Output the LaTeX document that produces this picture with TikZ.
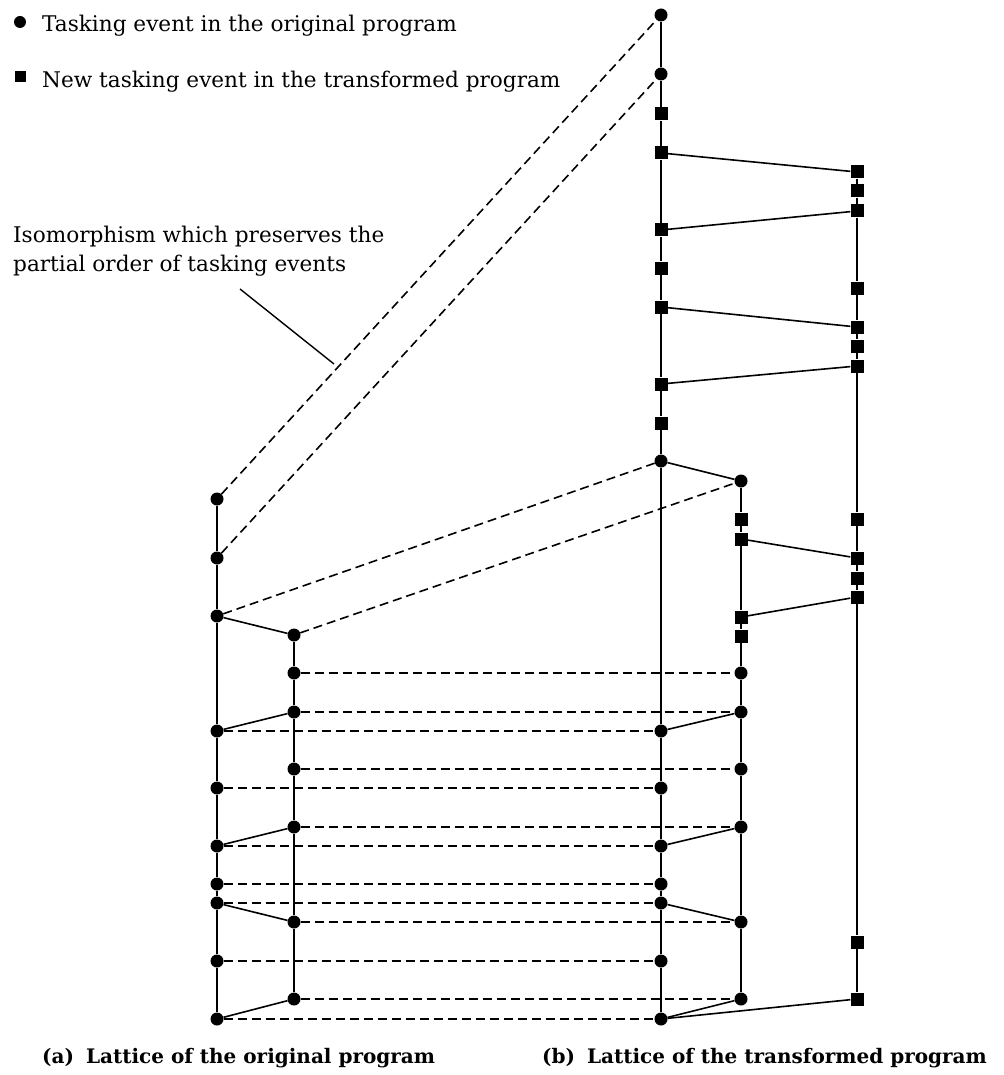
\documentclass[tikz,border=0pt]{standalone}
\usepackage{fontspec}
\setmainfont{DejaVu Serif}
\begin{document}
\begin{tikzpicture}[x=1pt,y=-1pt,
  circ/.style={circle,fill=black,inner sep=0pt,minimum size=13pt},
  sqr/.style={rectangle,fill=black,inner sep=0pt,minimum size=13pt},
  solidln/.style={line width=1.6pt,black},
  isoln/.style={line width=1.6pt,black,dash pattern=on 9pt off 5pt},
  txt/.style={anchor=base west,inner sep=0pt,font=\fontsize{21.6}{26}\selectfont},
  captxt/.style={anchor=base west,inner sep=0pt,font=\fontsize{20}{24}\selectfont\bfseries}]
\useasboundingbox (0,0) rectangle (1003,1075);
% legend
\node[circ,minimum size=12pt] (lc) at (20,22) {};
\node[sqr,minimum size=11pt] (ls) at (20,77) {};
\node[txt] (lt1) at (42,32) {Tasking event in the original program};
\node[txt] (lt2) at (42,88) {New tasking event in the transformed program};
% annotation
\node[txt] (an1) at (13,243) {Isomorphism which preserves the};
\node[txt] (an2) at (13,271) {partial order of tasking events};
\coordinate (ap1) at (240,289);
\coordinate (ap2) at (334,364);
\draw[line width=1.4pt] (ap1) -- (ap2);
% column A
\node[circ] (a1) at (217,499) {};
\node[circ] (a2) at (217,558) {};
\node[circ] (a3) at (217,616) {};
\node[circ] (a4) at (217,731) {};
\node[circ] (a5) at (217,788) {};
\node[circ] (a6) at (217,846) {};
\node[circ] (a7) at (217,884) {};
\node[circ] (a8) at (217,903) {};
\node[circ] (a9) at (217,961) {};
\node[circ] (a10) at (217,1019) {};
% column B
\node[circ] (b1) at (294,635) {};
\node[circ] (b2) at (294,673) {};
\node[circ] (b3) at (294,712) {};
\node[circ] (b4) at (294,769) {};
\node[circ] (b5) at (294,827) {};
\node[circ] (b6) at (294,922) {};
\node[circ] (b7) at (294,999) {};
% column C
\node[circ] (c1) at (661,15) {};
\node[circ] (c2) at (661,74) {};
\node[sqr] (c3) at (661,114) {};
\node[sqr] (c4) at (661,153) {};
\node[sqr] (c5) at (661,230) {};
\node[sqr] (c6) at (661,268) {};
\node[sqr] (c7) at (661,307) {};
\node[sqr] (c8) at (661,384) {};
\node[sqr] (c9) at (661,423) {};
\node[circ] (c10) at (661,461) {};
\node[circ] (c11) at (661,731) {};
\node[circ] (c12) at (661,788) {};
\node[circ] (c13) at (661,846) {};
\node[circ] (c14) at (661,884) {};
\node[circ] (c15) at (661,903) {};
\node[circ] (c16) at (661,961) {};
\node[circ] (c17) at (661,1019) {};
% column D
\node[circ] (d1) at (741,481) {};
\node[sqr] (d2) at (741,519) {};
\node[sqr] (d3) at (741,539) {};
\node[sqr] (d4) at (741,617) {};
\node[sqr] (d5) at (741,636) {};
\node[circ] (d6) at (741,673) {};
\node[circ] (d7) at (741,712) {};
\node[circ] (d8) at (741,769) {};
\node[circ] (d9) at (741,827) {};
\node[circ] (d10) at (741,922) {};
\node[circ] (d11) at (741,999) {};
% column E
\node[sqr] (e1) at (857,172) {};
\node[sqr] (e2) at (857,191) {};
\node[sqr] (e3) at (857,211) {};
\node[sqr] (e4) at (857,288) {};
\node[sqr] (e5) at (857,327) {};
\node[sqr] (e6) at (857,346) {};
\node[sqr] (e7) at (857,366) {};
\node[sqr] (e8) at (857,519) {};
\node[sqr] (e9) at (857,558) {};
\node[sqr] (e10) at (857,578) {};
\node[sqr] (e11) at (857,597) {};
\node[sqr] (e12) at (857,942) {};
\node[sqr] (e13) at (857,999) {};
% vertical chains
\draw[solidln] (a1)--(a2)--(a3)--(a4)--(a5)--(a6)--(a7)--(a8)--(a9)--(a10);
\draw[solidln] (b1)--(b2)--(b3)--(b4)--(b5)--(b6)--(b7);
\draw[solidln] (c1)--(c2)--(c3)--(c4)--(c5)--(c6)--(c7)--(c8)--(c9)--(c10)--(c11)--(c12)--(c13)--(c14)--(c15)--(c16)--(c17);
\draw[solidln] (d1)--(d2)--(d3)--(d4)--(d5)--(d6)--(d7)--(d8)--(d9)--(d10)--(d11);
\draw[solidln] (e1)--(e2)--(e3)--(e4)--(e5)--(e6)--(e7)--(e8)--(e9)--(e10)--(e11)--(e12)--(e13);
% cross edges
\draw[solidln] (a3)--(b1);
\draw[solidln] (b3)--(a4);
\draw[solidln] (b5)--(a6);
\draw[solidln] (a8)--(b6);
\draw[solidln] (b7)--(a10);
\draw[solidln] (c4)--(e1);
\draw[solidln] (c5)--(e3);
\draw[solidln] (c7)--(e5);
\draw[solidln] (c8)--(e7);
\draw[solidln] (c10)--(d1);
\draw[solidln] (d3)--(e9);
\draw[solidln] (d4)--(e11);
\draw[solidln] (d7)--(c11);
\draw[solidln] (d9)--(c13);
\draw[solidln] (c15)--(d10);
\draw[solidln] (d11)--(c17);
\draw[solidln] (c17)--(e13);
% isomorphism
\draw[isoln] (a1)--(c1);
\draw[isoln] (a2)--(c2);
\draw[isoln] (a3)--(c10);
\draw[isoln] (b1)--(d1);
\draw[isoln] (b2)--(d6);
\draw[isoln] (b3)--(d7);
\draw[isoln] (a4)--(c11);
\draw[isoln] (b4)--(d8);
\draw[isoln] (a5)--(c12);
\draw[isoln] (b5)--(d9);
\draw[isoln] (a6)--(c13);
\draw[isoln] (a7)--(c14);
\draw[isoln] (a8)--(c15);
\draw[isoln] (b6)--(d10);
\draw[isoln] (a9)--(c16);
\draw[isoln] (b7)--(d11);
\draw[isoln] (a10)--(c17);
% captions
\node[captxt] (capa) at (42,1063) {(a)\hspace{0.6em}Lattice of the original program};
\node[captxt] (capb) at (542,1063) {(b)\hspace{0.6em}Lattice of the transformed program};
\end{tikzpicture}
\end{document}
